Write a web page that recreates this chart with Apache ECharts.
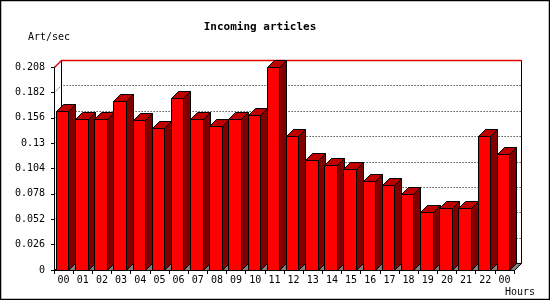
<!DOCTYPE html>
<html>
<head>
<meta charset="utf-8">
<script src="https://cdn.jsdelivr.net/npm/echarts@6/dist/echarts.min.js"></script>
<style>html,body{margin:0;padding:0;background:#fff}#c{width:550px;height:300px}</style>
</head>
<body>
<div id="c"></div>
<script>
const hours = ['00','01','02','03','04','05','06','07','08','09','10','11','12','13','14','15','16','17','18','19','20','21','22','00'];
const artPerSec = [0.1627,0.1552,0.1552,0.1729,0.1535,0.1453,0.1767,0.1552,0.1480,0.1552,0.1593,0.2080,0.1368,0.1122,0.1071,0.1040,0.0907,0.0866,0.0774,0.0590,0.0631,0.0631,0.1378,0.1184];
const yTicks = [0,0.026,0.052,0.078,0.104,0.13,0.156,0.182,0.208];
const titleText = 'Incoming articles';
const yName = 'Art/sec';
const xName = 'Hours';

const FONT = 'DejaVu Sans Mono';
const DEPTH = 7;
const px = v => Math.round(v) + 0.5;

const chart = echarts.init(document.getElementById('c'), null, {renderer:'canvas'});

function renderFrame(params, api) {
  const cs = params.coordSys;
  const L = px(cs.x), R = px(cs.x + cs.width);
  const B = px(api.coord([0, yTicks[0]])[1]);
  const T = px(api.coord([0, yTicks[yTicks.length-1]])[1]);
  const d = DEPTH;
  const children = [];
  // floor
  children.push({type:'polygon', shape:{points:[[L,B],[L+d,B-d],[R+d,B-d],[R,B]]},
    style:{fill:'#808080', stroke:'#000', lineWidth:1}});
  // back wall
  children.push({type:'rect', shape:{x:L+d, y:T-d, width:R-L, height:B-T},
    style:{fill:'#fff', stroke:'#000', lineWidth:1}});
  // dotted gridlines
  for (let k = 1; k < yTicks.length-1; k++) {
    const y = px(api.coord([0, yTicks[k]])[1]);
    children.push({type:'polyline', shape:{points:[[L,y],[L+d,y-d],[R+d,y-d]]},
      style:{fill:null, stroke:'#000', lineWidth:1, lineDash:[1,2]}});
  }
  // red max line
  children.push({type:'polyline', shape:{points:[[L,T],[L+d,T-d],[R+d,T-d]]},
    style:{fill:null, stroke:'#e00000', lineWidth:1.4}});
  return {type:'group', children};
}

function renderBar(params, api) {
  const i = api.value(0), v = api.value(1);
  const base = api.coord([i, 0]);
  const top = api.coord([i, v]);
  const bw = api.size([1, 0])[0];
  const left = base[0] - bw/2;
  const x0 = px(left + bw*0.1), x1 = px(left + bw*0.75);
  const yb = px(base[1]), yt = px(top[1]);
  const d = DEPTH;
  return {type:'group', children:[
    {type:'polygon', shape:{points:[[x1,yb],[x1,yt],[x1+d,yt-d],[x1+d,yb-d]]},
      style:{fill:'#800000', stroke:'#000', lineWidth:1}},
    {type:'polygon', shape:{points:[[x0,yt],[x1,yt],[x1+d,yt-d],[x0+d,yt-d]]},
      style:{fill:'#c00000', stroke:'#000', lineWidth:1}},
    {type:'rect', shape:{x:x0, y:yt, width:x1-x0, height:yb-yt},
      style:{fill:'#ff0000', stroke:'#000', lineWidth:1}}
  ]};
}

chart.setOption({
  animation:false,
  backgroundColor:'#fff',
  grid:{left:54, right:36, top:67, bottom:30, containLabel:false},
  xAxis:{type:'category', data:hours,
    axisLine:{show:true, lineStyle:{color:'#000', width:1}},
    axisTick:{show:true, length:4, interval:0, lineStyle:{color:'#000'}},
    axisLabel:{interval:0, margin:5, color:'#000', fontFamily:FONT, fontSize:10},
    splitLine:{show:false}},
  yAxis:{type:'value', min:yTicks[0], max:yTicks[yTicks.length-1], interval:yTicks[1]-yTicks[0],
    axisLine:{show:true, lineStyle:{color:'#000', width:1}},
    axisTick:{show:true, length:3, lineStyle:{color:'#000'}},
    axisLabel:{margin:9, color:'#000', fontFamily:FONT, fontSize:10,
      formatter: v => String(Math.round(v*1000)/1000)},
    splitLine:{show:false}},
  graphic:[
    {type:'rect', shape:{x:0.5, y:0.5, width:549, height:299}, style:{fill:null, stroke:'#000', lineWidth:1.5}, z:100},
    {type:'text', x:260, y:27, style:{text:titleText, font:'bold 11px "DejaVu Sans Mono"', fill:'#000', align:'center', verticalAlign:'middle'}},
    {type:'text', x:28, y:37, style:{text:yName, font:'10px "DejaVu Sans Mono"', fill:'#000', align:'left', verticalAlign:'middle'}},
    {type:'text', x:505, y:292, style:{text:xName, font:'10px "DejaVu Sans Mono"', fill:'#000', align:'left', verticalAlign:'middle'}}
  ],
  series:[
    {type:'custom', z:1, data:[[0,0]], renderItem:renderFrame, silent:true, clip:false},
    {type:'custom', z:3, data:artPerSec.map((v,i)=>[i,v]), encode:{x:0,y:1}, renderItem:renderBar, clip:false}
  ]
});
</script>
</body>
</html>
